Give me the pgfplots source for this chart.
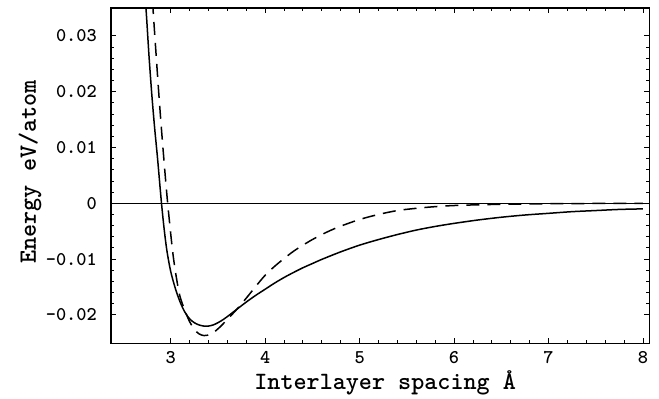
\documentclass[border=0pt]{standalone}
\usepackage{fontspec}
\usepackage{pgfplots}
\pgfplotsset{compat=1.18}
\begin{document}
\begin{tikzpicture}
\begin{axis}[
  scale only axis,
  width=538.3bp, height=335.3bp,
  xmin=2.368, xmax=8.067,
  ymin=-0.02509, ymax=0.0350,
  scaled y ticks=false, scaled x ticks=false,
  axis line style={line width=1.1bp},
  xtick={3,4,5,6,7,8},
  xticklabels={3,4,5,6,7,8},
  ytick={-0.02,-0.01,0,0.01,0.02,0.03},
  yticklabels={-0.02,-0.01,0,0.01,0.02,0.03},
  minor x tick num=4,
  minor y tick num=4,
  tick align=inside,
  major tick length=5bp,
  minor tick length=3bp,
  tick style={line width=0.9bp, black},
  xtick pos=both, ytick pos=both,
  ticklabel pos=left,
  tick label style={font=\ttfamily\bfseries\fontsize{19.5}{19.5}\selectfont, inner sep=0pt},
  yticklabel style={anchor=east, xshift=-14bp},
  xticklabel style={anchor=north, yshift=-8bp},
  xlabel={Interlayer spacing Å},
  ylabel={Energy eV/atom},
  label style={font=\ttfamily\bfseries\fontsize{25}{25}\selectfont},
  xlabel style={at={(rel axis cs:0.5,0)}, anchor=center, yshift=-40bp, xshift=5bp},
  ylabel style={at={(rel axis cs:0,0.5)}, anchor=center, yshift=81bp, xshift=3.7bp},
  clip=true,
]
\coordinate (sw) at (rel axis cs:0,0);
\coordinate (ne) at (rel axis cs:1,1);
\addplot[black, line width=1bp] coordinates {(2.368,0) (8.067,0)};
\addplot[black, line width=1.5bp, smooth, tension=0.5] coordinates {
(2.72,0.038) (2.74,0.0345) (2.77,0.0265) (2.80,0.0195) (2.83,0.0135) (2.86,0.0082)
(2.90,0.0005) (2.93,-0.0045) (2.96,-0.0085) (3.00,-0.0122) (3.05,-0.0153)
(3.10,-0.0177) (3.15,-0.0195) (3.20,-0.0207) (3.25,-0.0214) (3.30,-0.0218)
(3.35,-0.0220) (3.40,-0.0220) (3.45,-0.0218) (3.50,-0.0214) (3.55,-0.0209)
(3.60,-0.0203) (3.70,-0.0190) (3.80,-0.0177) (3.90,-0.0165) (4.00,-0.0154)
(4.10,-0.0143) (4.20,-0.0133) (4.30,-0.0124) (4.40,-0.01155) (4.50,-0.0108)
(4.60,-0.01005) (4.80,-0.0087) (5.00,-0.0075) (5.20,-0.0065) (5.40,-0.0056)
(5.60,-0.0048) (5.80,-0.00415) (6.00,-0.0036) (6.25,-0.0030) (6.50,-0.0025)
(6.75,-0.0021) (7.00,-0.0018) (7.25,-0.0015) (7.50,-0.0013) (7.75,-0.0011)
(8.00,-0.0010)
};
\addplot[black, line width=1.5bp, smooth, tension=0.5, dash pattern=on 13bp off 8bp] coordinates {
(2.79,0.040) (2.812,0.035) (2.84,0.028) (2.879,0.0185) (2.92,0.0095) (2.968,0.0)
(3.027,-0.0095) (3.09,-0.0161) (3.15,-0.0192) (3.20,-0.0212) (3.25,-0.0226)
(3.30,-0.0234) (3.35,-0.0237) (3.40,-0.0236) (3.45,-0.0232) (3.52,-0.0222)
(3.6,-0.0208) (3.70,-0.0190) (3.8,-0.0170) (3.9,-0.0149) (4.0,-0.0129)
(4.1,-0.0113) (4.2,-0.0099) (4.3,-0.0086) (4.4,-0.0075) (4.5,-0.0065)
(4.6,-0.0056) (4.7,-0.0048) (4.8,-0.0041) (5.0,-0.0029) (5.2,-0.0020)
(5.4,-0.0013) (5.6,-0.0009) (5.8,-0.0006) (6.0,-0.0004) (6.3,-0.00025)
(6.6,-0.00015) (7.0,-0.00008) (7.5,-0.00003) (8.0,0)
};
\end{axis}
\path ([shift={(-111bp,-52.7bp)}]sw) rectangle ([shift={(9.7bp,8bp)}]ne);
\end{tikzpicture}
\end{document}
